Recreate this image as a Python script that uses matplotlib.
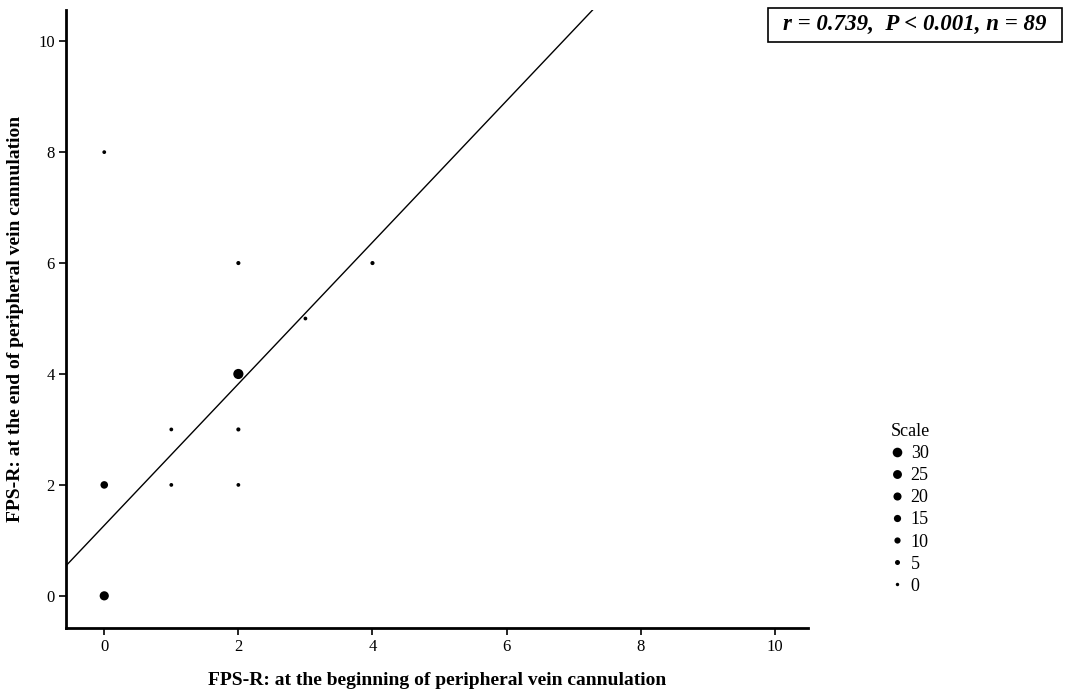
import matplotlib
matplotlib.use("Agg")
import matplotlib.pyplot as plt
from matplotlib.lines import Line2D
from matplotlib.patches import Rectangle
import numpy as np

# Data (counts of patients at each score pair, n = 89)
x_begin = [0, 0, 0, 1, 1, 2, 2, 2, 2, 3, 4]
y_end = [0, 2, 8, 2, 3, 2, 3, 4, 6, 5, 6]
counts = [27, 17, 1, 1, 1, 1, 2, 34, 2, 1, 2]
legend_values = [30, 25, 20, 15, 10, 5, 0]

# regression line parameters
intercept = 1.27
slope = 1.276

stats_text = "r = 0.739,  P < 0.001, n = 89"
xlabel = "FPS-R: at the beginning of peripheral vein cannulation"
ylabel = "FPS-R: at the end of peripheral vein cannulation"

plt.rcParams['font.family'] = ['Liberation Serif', 'DejaVu Serif']


def size_of(c):
    return 6 + 1.4 * np.asarray(c, dtype=float)


fig = plt.figure(figsize=(10.65, 6.95), dpi=100)
ax = fig.add_axes([0.062, 0.0964, 0.697, 0.889])

ax.scatter(x_begin, y_end, s=size_of(counts), color='black', linewidths=0, zorder=3)

xmin, xmax = -0.57, 10.5
ymin, ymax = -0.58, 10.56
xs = np.array([xmin, xmax])
ax.plot(xs, intercept + slope * xs, color='black', lw=1.0, zorder=2)

ax.set_xlim(xmin, xmax)
ax.set_ylim(ymin, ymax)
ax.set_xticks([0, 2, 4, 6, 8, 10])
ax.set_yticks([0, 2, 4, 6, 8, 10])
for s in ['top', 'right']:
    ax.spines[s].set_visible(False)
for s in ['left', 'bottom']:
    ax.spines[s].set_linewidth(2.0)
ax.tick_params(axis='both', direction='out', length=5, width=1.2, labelsize=12, pad=3)

ax.set_xlabel(xlabel, fontsize=14, fontweight='bold', labelpad=12)
ax.set_ylabel(ylabel, fontsize=14, fontweight='bold', labelpad=10)

fig.patches.append(Rectangle((0.7211, 0.9396), 0.276, 0.0489, transform=fig.transFigure,
                             facecolor='white', edgecolor='black', linewidth=1.2))
fig.text(0.8592, 0.9645, stats_text, fontsize=16.5, fontweight='bold', style='italic',
         ha='center', va='center')

handles = [Line2D([], [], linestyle='none', marker='o', color='black', markeredgewidth=0,
                  markersize=np.sqrt(size_of(v))) for v in legend_values]
leg = fig.legend(handles, [str(v) for v in legend_values], title='Scale', frameon=False,
                 loc='upper left', bbox_to_anchor=(0.828, 0.404), fontsize=13, title_fontsize=13,
                 handlelength=0.7, handletextpad=0.4, labelspacing=0.28, borderpad=0)
leg._legend_box.align = 'left'

fig.savefig('out.png', dpi=100, facecolor='white')
